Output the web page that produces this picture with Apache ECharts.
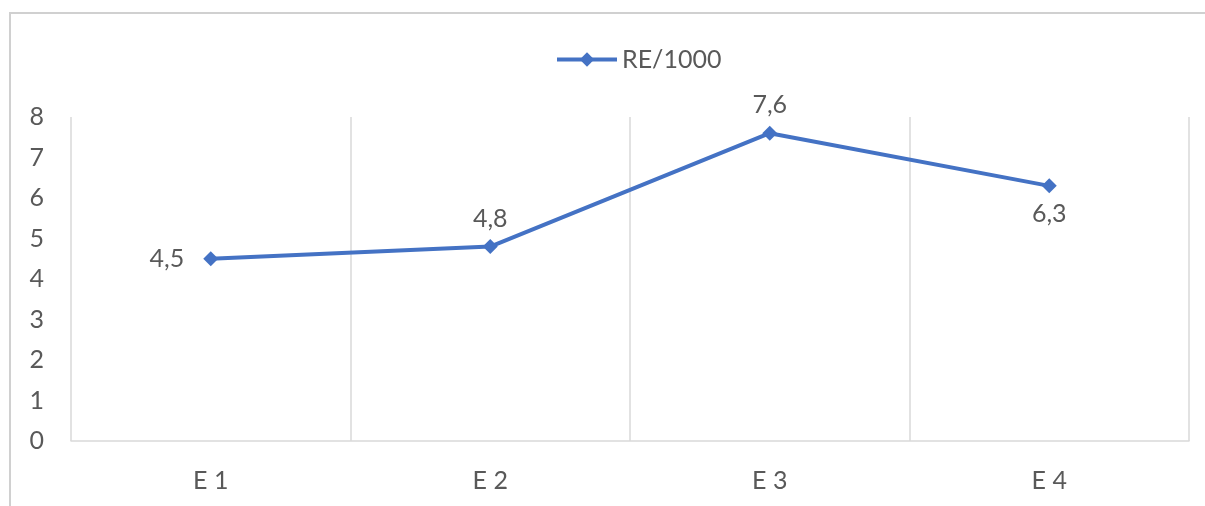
<!DOCTYPE html>
<html>
<head>
<meta charset="utf-8">
<style>
  html, body { margin: 0; padding: 0; background: #ffffff; }
  #chart { width: 1205px; height: 506px; }
</style>
<script src="https://cdn.jsdelivr.net/npm/echarts@6/dist/echarts.min.js"></script>
</head>
<body>
<div id="chart"></div>
<script>
// Chart data
const categories = ['E 1', 'E 2', 'E 3', 'E 4'];
const seriesName = 'RE/1000';
const values = [4.5, 4.8, 7.6, 6.3];
const labelPositions = ['left', 'top', 'top', 'bottom'];
const yTicks = { min: 0, max: 8, interval: 1 };

const FONT = 'Lato, "Open Sans", sans-serif';
const FONT_SIZE = 25;
const TEXT_GRAY = '#595959';
const GRID_GRAY = '#d9d9d9';
const BLUE = '#4472C4';

const chart = echarts.init(document.getElementById('chart'), null, { renderer: 'canvas' });

chart.setOption({
  backgroundColor: '#ffffff',
  animation: false,
  graphic: [{
    // chart-area frame (top and left edges visible)
    type: 'rect',
    shape: { x: 10, y: 13, width: 1300, height: 600 },
    style: { fill: 'none', stroke: '#d0d0d0', lineWidth: 2 },
    z: -1
  }],
  legend: {
    top: 42,
    left: 550,
    itemWidth: 60,
    itemHeight: 18,
    itemStyle: { color: BLUE },
    lineStyle: { color: BLUE, width: 4 },
    textStyle: { fontFamily: FONT, fontSize: FONT_SIZE, color: TEXT_GRAY, padding: [0, 0, 0, 0] },
    data: [seriesName]
  },
  grid: { left: 71, right: 16, top: 117, bottom: 65, containLabel: false },
  xAxis: {
    type: 'category',
    data: categories,
    boundaryGap: true,
    axisLine: { show: true, lineStyle: { color: GRID_GRAY, width: 1.5 } },
    axisTick: { show: false },
    splitLine: { show: true, lineStyle: { color: GRID_GRAY, width: 1.5 } },
    axisLabel: { fontFamily: FONT, fontSize: FONT_SIZE, color: TEXT_GRAY, margin: 27 }
  },
  yAxis: {
    type: 'value',
    min: yTicks.min,
    max: yTicks.max,
    interval: yTicks.interval,
    axisLine: { show: false },
    axisTick: { show: false },
    splitLine: { show: false },
    axisLabel: { fontFamily: FONT, fontSize: FONT_SIZE, color: TEXT_GRAY, margin: 27 }
  },
  series: [{
    name: seriesName,
    type: 'line',
    data: values.map((v, i) => ({
      value: v,
      label: {
        position: labelPositions[i],
        distance: labelPositions[i] === 'left' ? 19 : 8
      }
    })),
    symbol: 'diamond',
    symbolSize: 15,
    lineStyle: { color: BLUE, width: 4 },
    itemStyle: { color: BLUE },
    label: {
      show: true,
      fontFamily: FONT,
      fontSize: FONT_SIZE,
      color: TEXT_GRAY,
      formatter: p => String(p.value).replace('.', ',')
    }
  }]
});
</script>
</body>
</html>
